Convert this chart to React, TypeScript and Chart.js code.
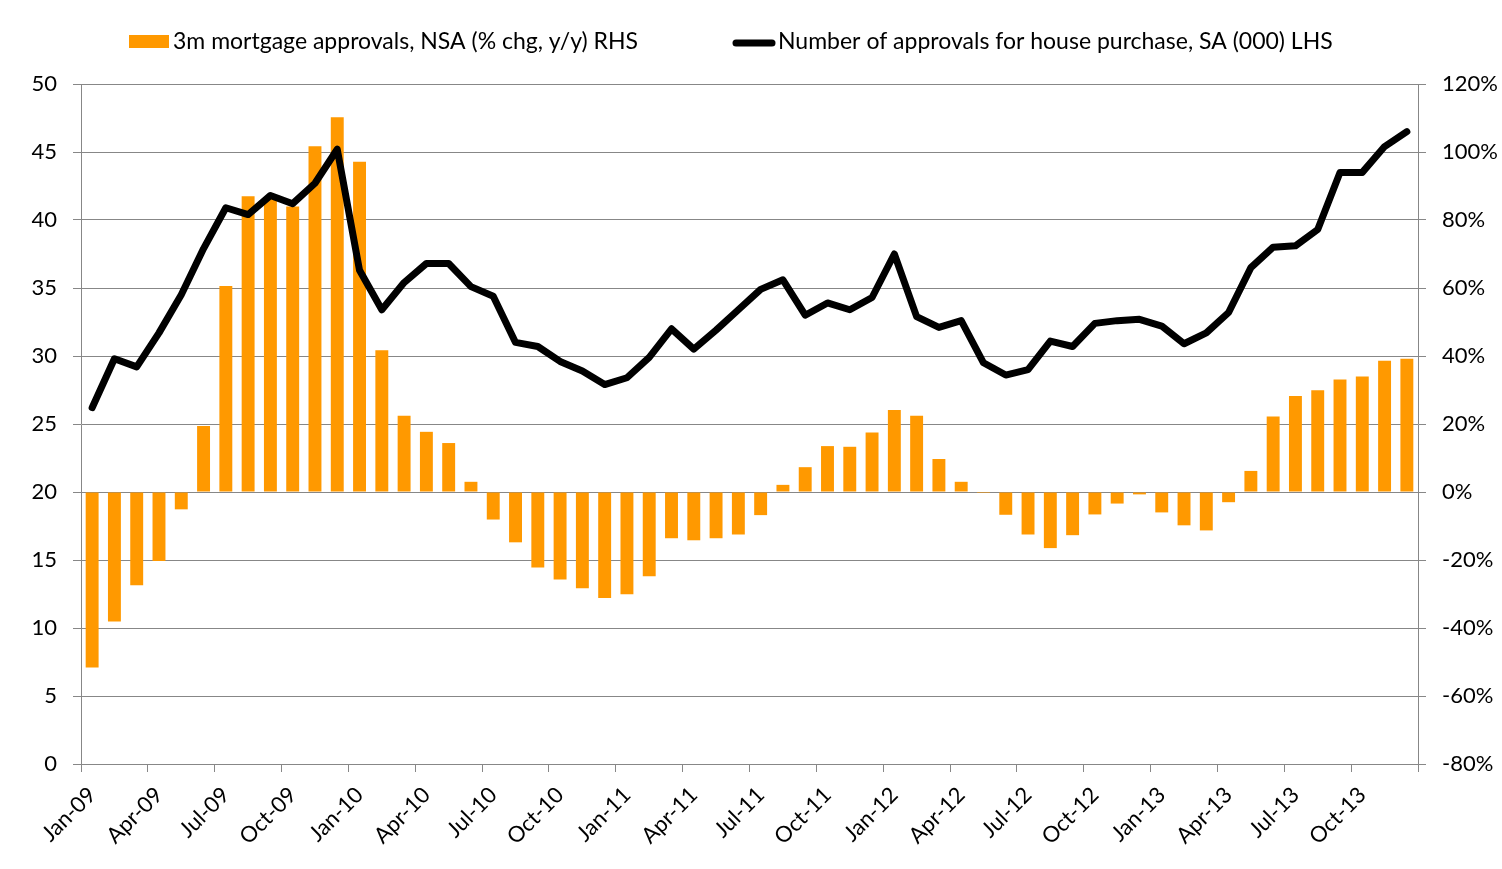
import React, { useEffect, useRef } from 'react';
import { Chart, registerables } from 'chart.js';

Chart.register(...registerables);

const months = [
  'Jan-09', 'Feb-09', 'Mar-09', 'Apr-09', 'May-09', 'Jun-09', 'Jul-09', 'Aug-09', 'Sep-09', 'Oct-09', 'Nov-09', 'Dec-09',
  'Jan-10', 'Feb-10', 'Mar-10', 'Apr-10', 'May-10', 'Jun-10', 'Jul-10', 'Aug-10', 'Sep-10', 'Oct-10', 'Nov-10', 'Dec-10',
  'Jan-11', 'Feb-11', 'Mar-11', 'Apr-11', 'May-11', 'Jun-11', 'Jul-11', 'Aug-11', 'Sep-11', 'Oct-11', 'Nov-11', 'Dec-11',
  'Jan-12', 'Feb-12', 'Mar-12', 'Apr-12', 'May-12', 'Jun-12', 'Jul-12', 'Aug-12', 'Sep-12', 'Oct-12', 'Nov-12', 'Dec-12',
  'Jan-13', 'Feb-13', 'Mar-13', 'Apr-13', 'May-13', 'Jun-13', 'Jul-13', 'Aug-13', 'Sep-13', 'Oct-13', 'Nov-13', 'Dec-13',
];

// 3m mortgage approvals, NSA (% chg, y/y) — right axis
const mortgageApprovalsPct = [
  -51.6, -38.1, -27.4, -20.3, -5.1, 19.4, 60.6, 87.0, 86.5, 84.0, 101.7, 110.2,
  97.1, 41.7, 22.4, 17.7, 14.4, 3.0, -8.1, -14.8, -22.2, -25.7, -28.3, -31.2,
  -30.1, -24.8, -13.6, -14.2, -13.6, -12.5, -6.8, 2.1, 7.3, 13.5, 13.3, 17.5,
  24.1, 22.4, 9.7, 3.0, -0.3, -6.7, -12.5, -16.5, -12.7, -6.6, -3.4, -0.7,
  -6.0, -9.8, -11.3, -3.0, 6.2, 22.2, 28.2, 29.9, 33.1, 34.0, 38.6, 39.2,
];

// Number of approvals for house purchase, SA (000) — left axis
const housePurchaseApprovals = [
  26.2, 29.8, 29.2, 31.7, 34.5, 37.9, 40.9, 40.4, 41.8, 41.2, 42.7, 45.2,
  36.3, 33.4, 35.4, 36.8, 36.8, 35.1, 34.4, 31.0, 30.7, 29.6, 28.9, 27.9,
  28.4, 29.9, 32.0, 30.5, 31.9, 33.4, 34.9, 35.6, 33.0, 33.9, 33.4, 34.3,
  37.5, 32.9, 32.1, 32.6, 29.5, 28.6, 29.0, 31.1, 30.7, 32.4, 32.6, 32.7,
  32.2, 30.9, 31.7, 33.2, 36.5, 38.0, 38.1, 39.3, 43.5, 43.5, 45.4, 46.5,
];

const barLabel = '3m mortgage approvals, NSA (% chg, y/y) RHS';
const lineLabel = 'Number of approvals for house purchase, SA (000) LHS';

const leftAxis = { min: 0, max: 50, step: 5 };
const rightAxis = { min: -80, max: 120, step: 20 };
const labelEvery = 3;

const BAR_COLOR = '#FF9900';
const LINE_COLOR = '#000000';
const GRID_COLOR = '#878787';
const TEXT_COLOR = '#000000';
const FONT_FAMILY = 'Lato';
const FONT_SIZE = 22;
const LEGEND_FONT_SIZE = 23;

const legendPlugin = {
  id: 'customLegend',
  afterDraw(chart: any) {
    const ctx = chart.ctx as CanvasRenderingContext2D;
    ctx.save();
    ctx.fillStyle = BAR_COLOR;
    ctx.fillRect(129, 35, 40, 13);
    ctx.font = `${LEGEND_FONT_SIZE}px ${FONT_FAMILY}`;
    ctx.fillStyle = TEXT_COLOR;
    ctx.textBaseline = 'alphabetic';
    ctx.textAlign = 'left';
    ctx.fillText(barLabel, 173, 49);
    ctx.strokeStyle = LINE_COLOR;
    ctx.lineWidth = 7;
    ctx.lineCap = 'round';
    ctx.beginPath();
    ctx.moveTo(736, 43);
    ctx.lineTo(772, 43);
    ctx.stroke();
    ctx.fillText(lineLabel, 778, 49);
    ctx.restore();
  },
};

export default function App() {
  const canvasRef = useRef<HTMLCanvasElement | null>(null);

  useEffect(() => {
    document.body.style.margin = '0';
    const canvas = canvasRef.current;
    if (!canvas) return;
    const font = { family: FONT_FAMILY, size: FONT_SIZE };
    const chart = new Chart(canvas, {
      type: 'bar',
      data: {
        labels: months,
        datasets: [
          {
            type: 'line',
            label: lineLabel,
            data: housePurchaseApprovals,
            yAxisID: 'y',
            borderColor: LINE_COLOR,
            backgroundColor: LINE_COLOR,
            borderWidth: 7,
            pointRadius: 0,
            pointHoverRadius: 0,
            tension: 0,
            borderJoinStyle: 'round',
            borderCapStyle: 'round',
            order: 0,
          } as any,
          {
            type: 'bar',
            label: barLabel,
            data: mortgageApprovalsPct,
            yAxisID: 'y1',
            backgroundColor: BAR_COLOR,
            borderWidth: 0,
            barPercentage: 0.58,
            categoryPercentage: 1,
            order: 1,
          } as any,
        ],
      },
      options: {
        responsive: false,
        animation: false,
        devicePixelRatio: 1,
        layout: { padding: { top: 84, left: 0, right: 0, bottom: 0 } },
        plugins: {
          legend: { display: false },
          tooltip: { enabled: false },
        },
        scales: {
          x: {
            type: 'category',
            offset: true,
            grid: {
              offset: true,
              drawOnChartArea: false,
              drawTicks: true,
              tickLength: 8,
              lineWidth: 1,
              color: (c: any) =>
                c.index === undefined || c.index % labelEvery === 0 ? GRID_COLOR : 'rgba(0,0,0,0)',
            },
            border: { display: true, color: GRID_COLOR, width: 1 },
            ticks: {
              autoSkip: false,
              maxRotation: 45,
              minRotation: 45,
              padding: 10,
              font,
              color: TEXT_COLOR,
              callback: (_v: any, i: number) => (i % labelEvery === 0 ? months[i] : ''),
            },
            afterFit: (s: any) => {
              s.height = 105;
            },
          },
          y: {
            type: 'linear',
            position: 'left',
            min: leftAxis.min,
            max: leftAxis.max,
            grid: { color: GRID_COLOR, lineWidth: 1, drawTicks: true, tickLength: 8 },
            border: { display: true, color: GRID_COLOR, width: 1 },
            ticks: { stepSize: leftAxis.step, padding: 16, font, color: TEXT_COLOR },
            afterFit: (s: any) => {
              s.width = 81;
            },
          },
          y1: {
            type: 'linear',
            position: 'right',
            min: rightAxis.min,
            max: rightAxis.max,
            grid: { drawOnChartArea: false, color: GRID_COLOR, lineWidth: 1, drawTicks: true, tickLength: 8 },
            border: { display: true, color: GRID_COLOR, width: 1 },
            ticks: {
              stepSize: rightAxis.step,
              padding: 16,
              font,
              color: TEXT_COLOR,
              callback: (v: any) => `${v}%`,
            },
            afterFit: (s: any) => {
              s.width = 84;
            },
          },
        },
      },
      plugins: [legendPlugin],
    });
    return () => chart.destroy();
  }, []);

  return (
    <div style={{ width: 1502, height: 869, background: '#fff' }}>
      <canvas ref={canvasRef} width={1502} height={869} style={{ display: 'block' }} />
    </div>
  );
}
